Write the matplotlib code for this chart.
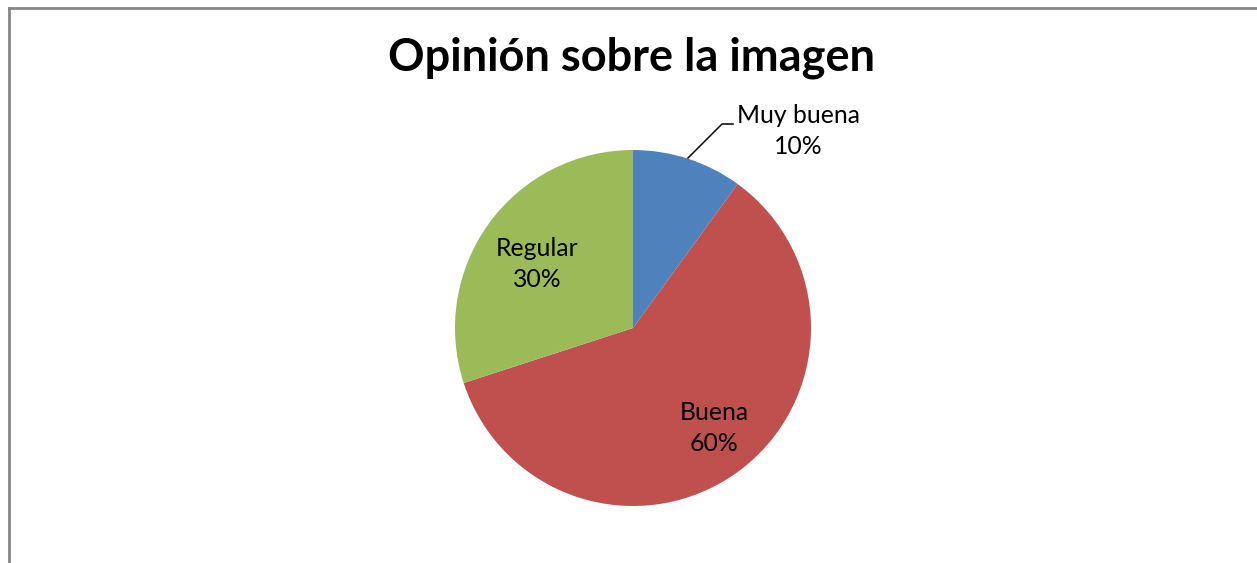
import matplotlib
matplotlib.use("Agg")
import matplotlib.pyplot as plt
from matplotlib.lines import Line2D

categories = ["Muy buena", "Buena", "Regular"]
values = [10, 60, 30]
colors = ["#4F81BD", "#C0504D", "#9BBB59"]

W, H = 1257, 563
fig = plt.figure(figsize=(W/100, H/100), dpi=100)
fig.patch.set_facecolor("white")

cx, cy, r = 633, 328, 178
ax = fig.add_axes([(cx - r)/W, (H - cy - r)/H, 2*r/W, 2*r/H])
ax.pie(values, colors=colors, startangle=90, counterclock=False, radius=1,
       wedgeprops=dict(linewidth=0))
ax.set_xlim(-1, 1)
ax.set_ylim(-1, 1)
ax.set_aspect("equal")
ax.axis("off")

font = "Lato"
total = sum(values)
label_pos = {"Regular": (-0.539, 0.36), "Buena": (0.455, -0.562), "Muy buena": (0.927, 1.107)}
for cat, v in zip(categories, values):
    x, y = label_pos[cat]
    ax.text(x, y, f"{cat}\n{round(100*v/total)}%", ha="center", va="center",
            fontsize=17.8, family=font, color="black", linespacing=1.38, clip_on=False)

ax.add_line(Line2D([0.309, 0.5, 0.562], [0.955, 1.146, 1.146], color="black", lw=1.1, clip_on=False))

fig.text(632/W, 1 - 58/H, "Opinión sobre la imagen", ha="center", va="center",
         fontsize=32.5, fontweight="bold", family=font)

fig.add_artist(Line2D([8.5/W, 1], [1 - 7.5/H, 1 - 7.5/H], color="#868686", lw=2))
fig.add_artist(Line2D([8.5/W, 8.5/W], [0, 1 - 7.5/H], color="#868686", lw=2))

fig.savefig("out.png", dpi=100)
